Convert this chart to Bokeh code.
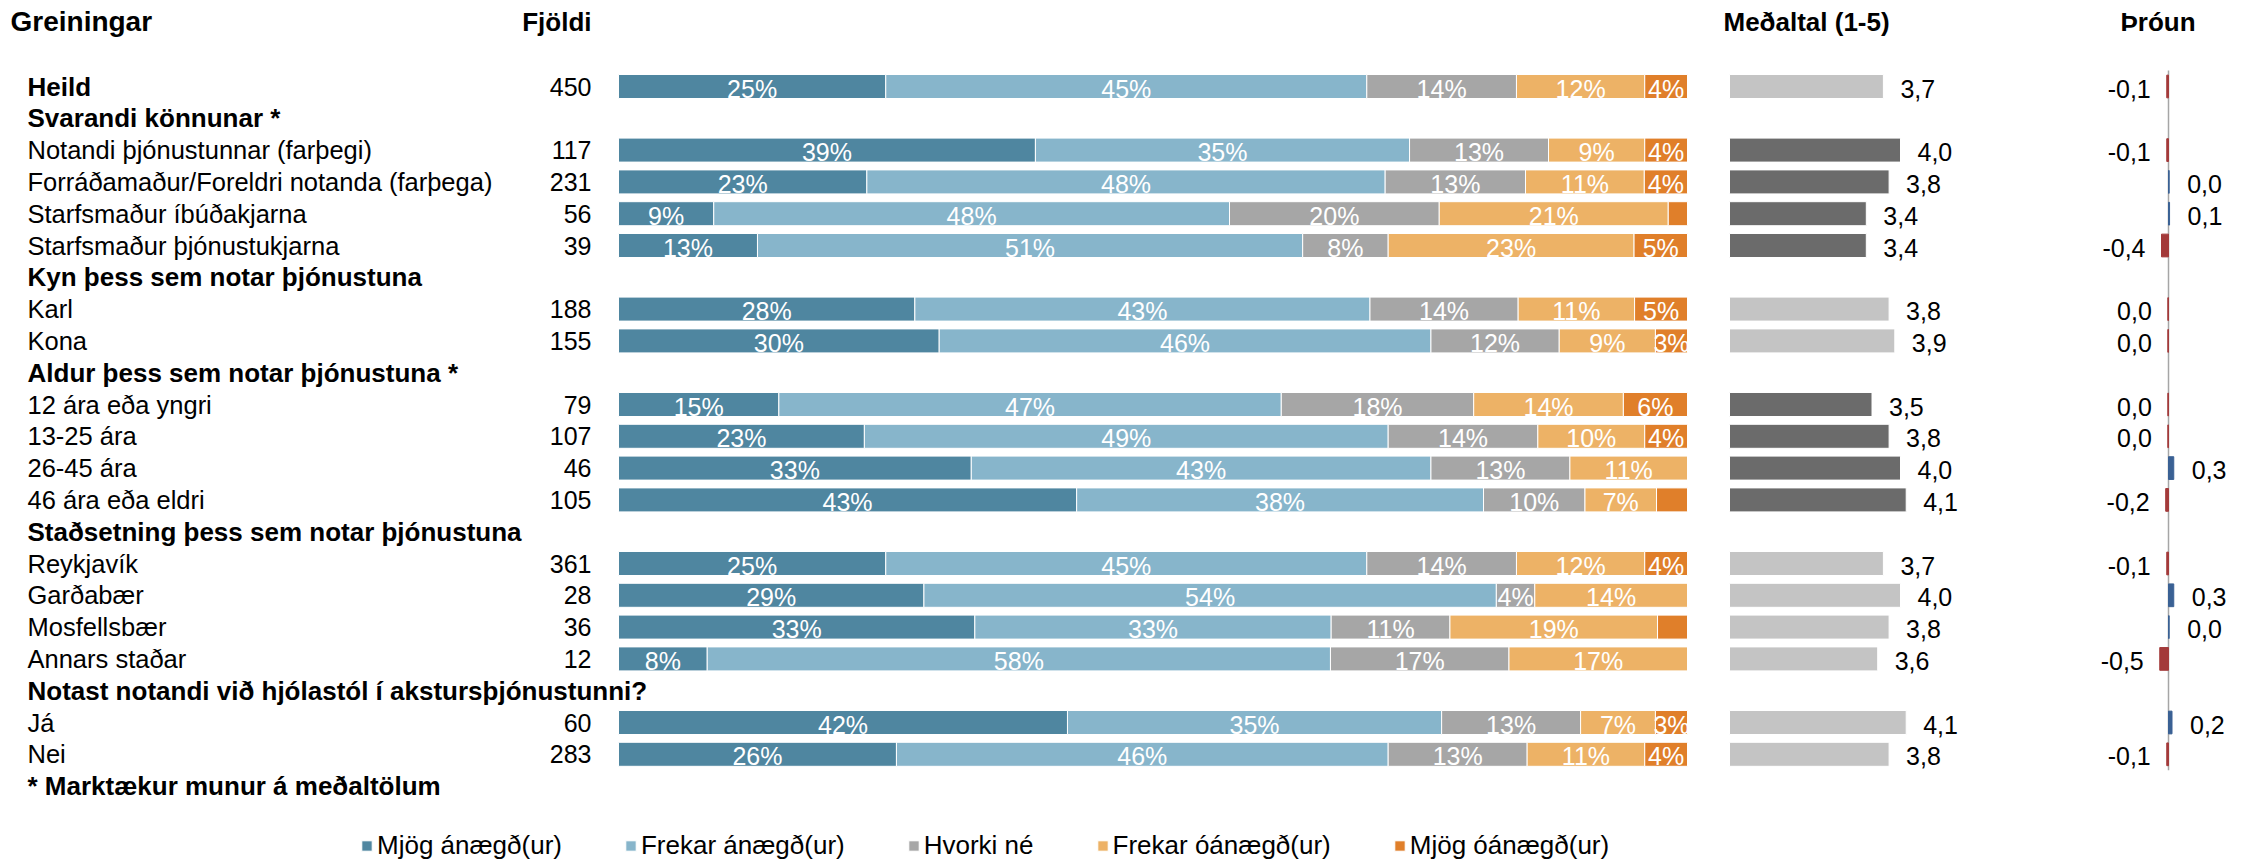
import numpy as np
from bokeh.plotting import figure
from bokeh.models import Range1d, ColumnDataSource, Legend, LegendItem
from bokeh.core.properties import value
from bokeh.embed import file_html
from bokeh.resources import INLINE

# ---------------- data ----------------
col_titles = ["Greiningar", "Fjöldi", "Meðaltal (1-5)", "Þróun"]
series_names = ["Mjög ánægð(ur)", "Frekar ánægð(ur)", "Hvorki né",
                "Frekar óánægð(ur)", "Mjög óánægð(ur)"]

row_labels = [
    "Heild",
    "Svarandi könnunar *",
    "Notandi þjónustunnar (farþegi)",
    "Forráðamaður/Foreldri notanda (farþega)",
    "Starfsmaður íbúðakjarna",
    "Starfsmaður þjónustukjarna",
    "Kyn þess sem notar þjónustuna",
    "Karl",
    "Kona",
    "Aldur þess sem notar þjónustuna *",
    "12 ára eða yngri",
    "13-25 ára",
    "26-45 ára",
    "46 ára eða eldri",
    "Staðsetning þess sem notar þjónustuna",
    "Reykjavík",
    "Garðabær",
    "Mosfellsbær",
    "Annars staðar",
    "Notast notandi við hjólastól í akstursþjónustunni?",
    "Já",
    "Nei",
    "* Marktækur munur á meðaltölum",
]
group_headers = [
    "Svarandi könnunar *",
    "Kyn þess sem notar þjónustuna",
    "Aldur þess sem notar þjónustuna *",
    "Staðsetning þess sem notar þjónustuna",
    "Notast notandi við hjólastól í akstursþjónustunni?",
]
bold_labels = ["Heild"] + group_headers + ["* Marktækur munur á meðaltölum"]

data_rows = [
    "Heild",
    "Notandi þjónustunnar (farþegi)",
    "Forráðamaður/Foreldri notanda (farþega)",
    "Starfsmaður íbúðakjarna",
    "Starfsmaður þjónustukjarna",
    "Karl",
    "Kona",
    "12 ára eða yngri",
    "13-25 ára",
    "26-45 ára",
    "46 ára eða eldri",
    "Reykjavík",
    "Garðabær",
    "Mosfellsbær",
    "Annars staðar",
    "Já",
    "Nei",
]
counts = [450, 117, 231, 56, 39, 188, 155, 79, 107, 46, 105, 361, 28, 36, 12, 60, 283]
mjog_anaegd    = [25, 39, 23,  8.9, 13, 28, 30, 15, 23, 33, 42.9, 25, 28.6, 33.3,  8.3, 42, 26]
frekar_anaegd  = [45, 35, 48, 48.2, 51, 43, 46, 47, 49, 43, 38.1, 45, 53.6, 33.3, 58.3, 35, 46]
hvorki_ne      = [14, 13, 13, 19.6,  8, 14, 12, 18, 14, 13,  9.5, 14,  3.6, 11.1, 16.7, 13, 13]
frekar_oanaegd = [12,  9, 11, 21.4, 23, 11,  9, 14, 10, 11,  6.7, 12, 14.3, 19.4, 16.7,  7, 11]
mjog_oanaegd   = [ 4,  4,  4,  1.8,  5,  5,  3,  6,  4,  0,  2.9,  4,  0,    2.8,  0,    3,  4]
means = [3.7, 4.0, 3.8, 3.4, 3.4, 3.8, 3.9, 3.5, 3.8, 4.0, 4.1, 3.7, 4.0, 3.8, 3.6, 4.1, 3.8]
trend = [-0.1, -0.1, 0.04, 0.06, -0.4, -0.04, -0.04, -0.04, -0.04, 0.3, -0.16,
         -0.1, 0.3, 0.04, -0.5, 0.2, -0.1]

# ---------------- style / layout ----------------
FONT = "Liberation Sans"
seg_colors = ["#4F86A0", "#87B5CB", "#A6A6A6", "#EDB266", "#E07F2A"]
mean_dark, mean_light = "#6B6B6B", "#C4C4C4"
trend_neg, trend_pos = "#A33A3A", "#3A6194"

W, H = 2243, 864
ROW0, PITCH = 86, 31.8
BAR_H = 0.755


def row_of(page_y):
    return (page_y - ROW0) / PITCH


p = figure(width=W, height=H, output_backend="svg", toolbar_location=None,
           x_range=Range1d(0, W),
           y_range=Range1d(row_of(H), row_of(0)),
           x_axis_location=None, y_axis_location=None,
           min_border=0, outline_line_color=None, background_fill_color="white")
p.grid.visible = False

# scales for the three bar panels (pixel anchors on the page)
PCT0, PCT_PX = 618, 1069 / 100.0
MEAN0, MEAN_PX = 1729, 57.0
TR0, TR_PX = 2168, 17.5
p.extra_x_ranges = {
    "pct": Range1d(-PCT0 / PCT_PX, (W - PCT0) / PCT_PX),
    "mean": Range1d(1 - MEAN0 / MEAN_PX, 1 + (W - MEAN0) / MEAN_PX),
    "trend": Range1d(-TR0 / TR_PX, (W - TR0) / TR_PX),
}

row_idx = np.array([row_labels.index(r) for r in data_rows], dtype=float)

# ---------------- stacked bars ----------------
vals = np.array([mjog_anaegd, frekar_anaegd, hvorki_ne, frekar_oanaegd, mjog_oanaegd], dtype=float)
norm = vals / vals.sum(axis=0) * 100.0
cum = np.vstack([np.zeros(vals.shape[1]), np.cumsum(norm, axis=0)])

seg_renderers = []
lab_x, lab_y, lab_t = [], [], []
for k in range(5):
    src = ColumnDataSource(dict(y=row_idx, left=cum[k], right=cum[k + 1]))
    r = p.hbar(y="y", left="left", right="right", height=BAR_H, source=src,
               x_range_name="pct", fill_color=seg_colors[k],
               line_color="white", line_width=1)
    seg_renderers.append(r)
    for i in range(vals.shape[1]):
        if vals[k, i] >= 3:
            lab_x.append((cum[k, i] + cum[k + 1, i]) / 2)
            lab_y.append(row_idx[i])
            lab_t.append(f"{int(round(vals[k, i]))}%")

p.text(x="x", y="y", text="t", source=ColumnDataSource(dict(x=lab_x, y=lab_y, t=lab_t)),
       x_range_name="pct", text_color="white", text_align="center",
       text_baseline="middle", text_font=value(FONT), text_font_size="25px", y_offset=2)

# ---------------- means ----------------
dark_rows = set()
current = None
for lbl in row_labels:
    if lbl in group_headers:
        current = lbl
    elif lbl in data_rows and current is not None and current.endswith("*"):
        dark_rows.add(lbl)
mean_colors = [mean_dark if r in dark_rows else mean_light for r in data_rows]
msrc = ColumnDataSource(dict(y=row_idx, m=means, c=mean_colors,
                             t=[f"{v:.1f}".replace(".", ",") for v in means]))
p.hbar(y="y", left=1, right="m", height=BAR_H, source=msrc, x_range_name="mean",
       fill_color="c", line_color="white", line_width=1)
p.text(x="m", y="y", text="t", source=msrc, x_range_name="mean", x_offset=17, y_offset=2,
       text_align="left", text_baseline="middle", text_color="black",
       text_font=value(FONT), text_font_size="25px")

# ---------------- trend ----------------
def fmt_tr(v):
    s = f"{v:.1f}"
    if s in ("-0.0", "0.0"):
        s = "0.0"
    return s.replace(".", ",")

tr = np.array(trend)
tcol = [trend_neg if v < 0 else trend_pos for v in tr]
tsrc = ColumnDataSource(dict(y=row_idx, v=tr, c=tcol))
p.segment(x0=0, y0=-0.5, x1=0, y1=row_idx.max() + 0.5, x_range_name="trend",
          line_color="#A6A6A6", line_width=1.5)
p.hbar(y="y", left=0, right="v", height=BAR_H - 0.04, source=tsrc, x_range_name="trend",
       fill_color="c", line_color="c", line_width=1)
neg = tr < 0
p.text(x=tr[neg], y=row_idx[neg], text=[fmt_tr(v) for v in tr[neg]], x_range_name="trend",
       x_offset=-16, y_offset=2, text_align="right", text_baseline="middle",
       text_font=value(FONT), text_font_size="25px", text_color="black")
p.text(x=tr[~neg], y=row_idx[~neg], text=[fmt_tr(v) for v in tr[~neg]], x_range_name="trend",
       x_offset=18, y_offset=2, text_align="left", text_baseline="middle",
       text_font=value(FONT), text_font_size="25px", text_color="black")

# ---------------- left text columns ----------------
all_idx = np.arange(len(row_labels), dtype=float)
is_bold = np.array([l in bold_labels for l in row_labels])
p.text(x=27, y=all_idx[~is_bold], text=[l for l, b in zip(row_labels, is_bold) if not b],
       text_align="left", text_baseline="middle", text_font=value(FONT),
       text_font_size="25.5px", text_color="black")
p.text(x=27, y=all_idx[is_bold], text=[l for l, b in zip(row_labels, is_bold) if b],
       text_align="left", text_baseline="middle", text_font=value(FONT),
       text_font_size="26px", text_font_style="bold", text_color="black")
p.text(x=591, y=row_idx, text=[str(c) for c in counts], text_align="right",
       text_baseline="middle", text_font=value(FONT), text_font_size="25px",
       text_color="black")

# column titles
hy = row_of(21)
p.text(x=[10], y=[hy], text=[col_titles[0]], text_align="left", text_baseline="middle",
       text_font=value(FONT), text_font_size="28px", text_font_style="bold")
p.text(x=[591], y=[hy], text=[col_titles[1]], text_align="right", text_baseline="middle",
       text_font=value(FONT), text_font_size="26px", text_font_style="bold")
p.text(x=[1723, 2120], y=[hy, hy], text=col_titles[2:], text_align="left",
       text_baseline="middle", text_font=value(FONT), text_font_size="26px",
       text_font_style="bold")

# ---------------- legend ----------------
legend = Legend(items=[LegendItem(label=n, renderers=[r]) for n, r in zip(series_names, seg_renderers)],
                orientation="horizontal", location=(360, 3),
                glyph_width=13, glyph_height=13, label_standoff=4, spacing=62,
                padding=0, margin=0, border_line_alpha=0, background_fill_alpha=0,
                label_text_font=FONT, label_text_font_size="26px",
                label_text_color="black")
p.add_layout(legend)

open("out.html", "w").write(file_html(p, INLINE))
